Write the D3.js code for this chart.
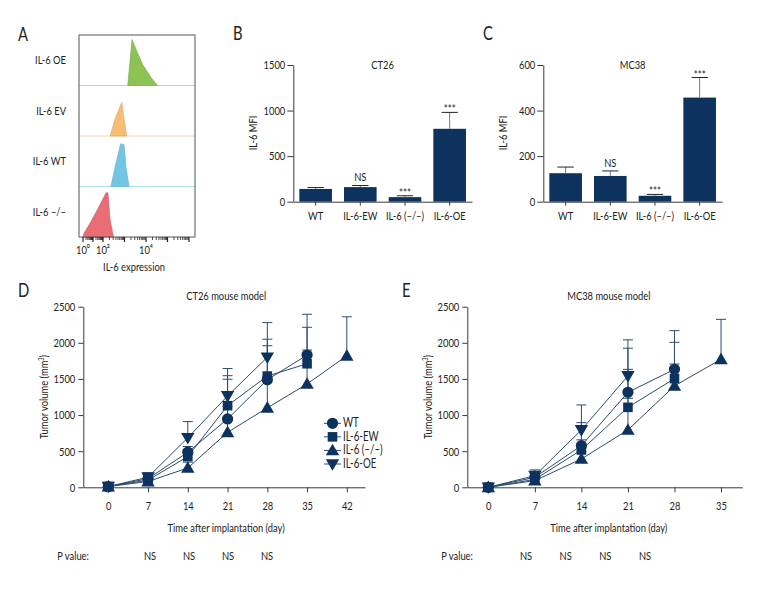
<!DOCTYPE html>
<html><head><meta charset="utf-8">
<script src="https://cdn.jsdelivr.net/npm/d3@7"></script>
<style>
body{margin:0;background:#fff}
text{font-family:Lato,Roboto,"Liberation Sans",sans-serif;fill:#222}
</style></head><body>
<svg id="c" width="780" height="600"></svg>
<script>
// ---------- DATA ----------
// Panel A (flow histograms): x in log10 decades, y in % of mode
const histRows = ["IL-6 OE","IL-6 EV","IL-6 WT","IL-6 \u2013/\u2013"];
const histOE = [[3.15,0],[3.35,100],[3.57,75],[3.85,45],[4.27,15],[4.54,0]];
const histEV = [[2.33,0],[2.56,37],[2.87,73],[2.98,37],[3.10,0]];
const histWT = [[2.37,0],[2.56,42],[2.82,93],[2.98,91],[3.07,42],[3.21,0]];
const histKO = [[0.00,0],[0.10,8],[0.70,30],[1.53,63],[2.14,96],[2.23,96],[2.33,37],[2.49,0]];
const histColors = ["#8dc353","#f7bd72","#72c6e3","#ea6c75"];
const histTickDecades = [0,2,4];
const histTickLabels = ["10\u2070","10\u00b2","10\u2074"];

// Panels B, C (bar charts)
const barCats = ["WT","IL-6-EW","IL-6 (\u2013/\u2013)","IL-6-OE"];
const ct26Mfi = [140,160,50,800];
const ct26Err = [15,18,15,180];
const mc38Mfi = [125,113,26,457];
const mc38Err = [27,22,6,88];
const sigLabels = ["","NS","***","***"];
const ct26MfiTicks = [0,500,1000,1500];
const mc38MfiTicks = [0,200,400,600];

// Panels D, E (tumor growth curves)
const seriesNames = ["WT","IL-6-EW","IL-6 (\u2013/\u2013)","IL-6-OE"];
const ct26Days = [0,7,14,21,28,35,42];
const ct26WT   = [10,120,485,946,1490,1830,null];
const ct26WTe  = [10,50,80,550,470,565,null];
const ct26EW   = [10,100,425,1130,1540,1710,null];
const ct26EWe  = [10,50,100,415,510,505,null];
const ct26KO   = [10,80,268,761,1100,1430,1820];
const ct26KOe  = [10,40,80,360,440,470,540];
const ct26OE   = [10,140,685,1264,1800,null,null];
const ct26OEe  = [10,60,225,380,480,null,null];

const mc38Days = [0,7,14,21,28,35];
const mc38WT   = [0,138,577,1315,1633,null];
const mc38WTe  = [10,80,318,610,536,null];
const mc38EW   = [0,110,517,1107,1504,null];
const mc38EWe  = [10,80,140,526,503,null];
const mc38KO   = [0,92,392,794,1403,1772];
const mc38KOe  = [10,60,100,438,304,553];
const mc38OE   = [0,161,794,1541,null,null];
const mc38OEe  = [10,80,346,500,null,null];

const volTicks = [0,500,1000,1500,2000,2500];
const pDays = [7,14,21,28];
const pLabels = ["NS","NS","NS","NS"];

// ---------- DRAWING ----------
const svg = d3.select("#c");
const navy = "#0d325e", lineC = "#2c4c70", axisC = "#3a3a3a";
const FS = 12;
const fmt = d3.format("d");

function styleAxis(a){
  a.selectAll("path,line").attr("stroke",axisC);
  a.selectAll("text").attr("font-size",FS).attr("font-family",null).attr("fill","#222");
}
function panelLetter(t,x,y){
  svg.append("text").attr("x",x).attr("y",y).attr("font-size",19).text(t);
}

// ===== Panel A =====
panelLetter("A",18,41);
(function(){
  const left=79,right=195,top=35,bottom=237;
  const x = d3.scaleLinear().domain([0,2,4,6.28]).range([83,103,146,right]);
  const rows = d3.scaleBand().domain(histRows).range([top,bottom]);
  const hists = [histOE,histEV,histWT,histKO];
  const g = svg.append("g");
  hists.forEach((h,i)=>{
    const base = rows(histRows[i])+rows.bandwidth();
    const y = d3.scaleLinear().domain([0,100]).range([base, base-46]);
    if(i<3) g.append("line").attr("x1",left).attr("x2",right).attr("y1",base).attr("y2",base)
       .attr("stroke",histColors[i]).attr("stroke-opacity",0.6).attr("stroke-width",1);
    g.append("path").datum(h)
      .attr("d",d3.area().x(d=>x(d[0])).y0(base).y1(d=>y(d[1])))
      .attr("fill",histColors[i]).attr("stroke",d3.color(histColors[i]).darker(0.4)).attr("stroke-width",0.6);
    g.append("text").attr("x",66).attr("y",rows(histRows[i])+rows.bandwidth()/2+4)
      .attr("text-anchor","end").attr("font-size",FS).text(histRows[i]);
  });
  g.append("rect").attr("x",left).attr("y",top).attr("width",right-left).attr("height",bottom-top)
    .attr("fill","none").attr("stroke","#555").attr("stroke-width",1);
  const minor=[];
  for(let d=0; d<7; d++) for(let k=2;k<10;k++){ const v=d+Math.log10(k); if(v<6.28) minor.push(v); }
  g.selectAll(".mn").data(minor).join("line").attr("x1",d=>x(d)).attr("x2",d=>x(d))
    .attr("y1",bottom).attr("y2",bottom+3).attr("stroke","#222").attr("stroke-width",0.8);
  g.selectAll(".mj").data(d3.range(0,7)).join("line").attr("x1",d=>x(d)).attr("x2",d=>x(d))
    .attr("y1",bottom).attr("y2",bottom+5).attr("stroke","#222").attr("stroke-width",1.2);
  g.selectAll(".tl").data(histTickDecades).join("text").attr("x",d=>x(d)).attr("y",254)
    .attr("text-anchor","middle").attr("font-size",FS).text((d,i)=>histTickLabels[i]);
  g.append("text").attr("x",134).attr("y",271).attr("text-anchor","middle").attr("font-size",FS).text("IL-6 expression");
})();

// ===== Panels B, C =====
function barPanel(letter,lx,title,vals,errs,ticks,xr,ylabX){
  panelLetter(letter,lx,40);
  const x = d3.scaleBand().domain(barCats).range(xr).paddingInner(0.27).paddingOuter(0.135);
  const y = d3.scaleLinear().domain([0,ticks[ticks.length-1]]).range([201.7,65]);
  const g = svg.append("g");
  g.append("g").attr("transform",`translate(${xr[0]},0)`)
    .call(d3.axisLeft(y).tickValues(ticks).tickFormat(fmt).tickSize(6).tickSizeOuter(0).tickPadding(2))
    .call(styleAxis);
  g.selectAll(".bar").data(barCats).join("rect")
    .attr("x",d=>x(d)).attr("width",x.bandwidth())
    .attr("y",(d,i)=>y(vals[i])).attr("height",(d,i)=>y(0)-y(vals[i])).attr("fill",navy);
  g.selectAll(".ev").data(barCats).join("line")
    .attr("x1",d=>x(d)+x.bandwidth()/2).attr("x2",d=>x(d)+x.bandwidth()/2)
    .attr("y1",(d,i)=>y(vals[i])).attr("y2",(d,i)=>y(vals[i]+errs[i])).attr("stroke","#777").attr("stroke-width",1);
  g.selectAll(".ec").data(barCats).join("line")
    .attr("x1",d=>x(d)+x.bandwidth()*0.25).attr("x2",d=>x(d)+x.bandwidth()*0.75)
    .attr("y1",(d,i)=>y(vals[i]+errs[i])).attr("y2",(d,i)=>y(vals[i]+errs[i])).attr("stroke","#222").attr("stroke-width",1);
  g.append("g").attr("transform",`translate(0,${y(0)})`)
    .call(d3.axisBottom(x).tickSize(4).tickSizeOuter(0).tickPadding(6))
    .call(styleAxis);
  g.selectAll(".sig").data(barCats).join("text")
    .attr("x",d=>x(d)+x.bandwidth()/2)
    .attr("y",(d,i)=>y(vals[i]+errs[i])-(sigLabels[i]==="NS"?4:-1))
    .attr("text-anchor","middle").attr("font-size",FS).text((d,i)=>sigLabels[i]);
  g.append("text").attr("x",(xr[0]+xr[1])/2).attr("y",69).attr("text-anchor","middle").attr("font-size",FS).text(title);
  g.append("text").attr("transform",`translate(${ylabX},133) rotate(-90)`).attr("text-anchor","middle").attr("font-size",FS).text("IL-6 MFI");
}
barPanel("B",233,"CT26",ct26Mfi,ct26Err,ct26MfiTicks,[293.3,472],257);
barPanel("C",483,"MC38",mc38Mfi,mc38Err,mc38MfiTicks,[543.3,722],507);

// ===== Panels D, E =====
const symbols = [d3.symbolCircle,d3.symbolSquare,d3.symbolTriangle,d3.symbolTriangle];
const symSize = [100,92,78,78];
const symRot = [0,0,0,180];

function growthPanel(letter,lx,title,days,series,errs,xDomain,xRange,pRange,legend){
  panelLetter(letter,lx,297);
  const x = d3.scaleLinear().domain(xDomain).range(xRange);
  const y = d3.scaleLinear().domain([0,2500]).range([487.3,306.7]);
  const g = svg.append("g");
  g.append("g").attr("transform",`translate(${xRange[0]},0)`)
    .call(d3.axisLeft(y).tickValues(volTicks).tickFormat(fmt).tickSize(5).tickSizeOuter(0).tickPadding(3))
    .call(styleAxis);
  g.append("g").attr("transform",`translate(0,${y(0)})`)
    .call(d3.axisBottom(x).tickValues(days).tickFormat(fmt).tickSize(5).tickSizeOuter(0).tickPadding(9))
    .call(styleAxis);
  series.forEach((s,si)=>{
    const pts = days.map((d,i)=>({d,v:s[i],e:errs[si][i]})).filter(p=>p.v!==null);
    g.selectAll(null).data(pts).join("line")
      .attr("x1",p=>x(p.d)).attr("x2",p=>x(p.d)).attr("y1",p=>y(p.v)).attr("y2",p=>y(p.v+p.e))
      .attr("stroke",lineC).attr("stroke-width",1);
    g.selectAll(null).data(pts).join("line")
      .attr("x1",p=>x(p.d)-5).attr("x2",p=>x(p.d)+5).attr("y1",p=>y(p.v+p.e)).attr("y2",p=>y(p.v+p.e))
      .attr("stroke",lineC).attr("stroke-width",1);
  });
  series.forEach((s,si)=>{
    const pts = days.map((d,i)=>({d,v:s[i]})).filter(p=>p.v!==null);
    g.append("path").datum(pts).attr("d",d3.line().x(p=>x(p.d)).y(p=>y(p.v)))
      .attr("fill","none").attr("stroke",lineC).attr("stroke-width",1);
  });
  series.forEach((s,si)=>{
    const pts = days.map((d,i)=>({d,v:s[i]})).filter(p=>p.v!==null);
    g.selectAll(null).data(pts).join("path")
      .attr("d",d3.symbol(symbols[si],symSize[si]))
      .attr("transform",p=>`translate(${x(p.d)},${y(p.v)+(si===3?-1:si===2?1:0)}) rotate(${symRot[si]})`)
      .attr("fill",navy);
  });
  const cx = (xRange[0]+xRange[1])/2 + (letter==="D"?2:4);
  g.append("text").attr("x",cx).attr("y",300).attr("text-anchor","middle").attr("font-size",FS).text(title);
  g.append("text").attr("x",cx).attr("y",532).attr("text-anchor","middle").attr("font-size",FS).text("Time after implantation (day)");
  const yl = g.append("text").attr("transform",`translate(${xRange[0]-35},397) rotate(-90)`).attr("text-anchor","middle").attr("font-size",FS);
  yl.append("tspan").text("Tumor volume (mm");
  yl.append("tspan").attr("font-size",7).attr("dy",-4).text("3");
  yl.append("tspan").attr("dy",4).text(")");
  const px = d3.scaleLinear().domain([pDays[0],pDays[pDays.length-1]]).range(pRange);
  g.append("text").attr("x",xRange[0]-26).attr("y",560).attr("font-size",FS).text("P value:");
  g.selectAll(null).data(pDays).join("text").attr("x",d=>px(d)).attr("y",560)
    .attr("text-anchor","middle").attr("font-size",FS).text((d,i)=>pLabels[i]);
  if(legend){
    const ly = d3.scalePoint().domain(seriesNames).range([423.3,464]);
    const lg = g.append("g");
    seriesNames.forEach((n,si)=>{
      lg.append("line").attr("x1",324).attr("x2",341).attr("y1",ly(n)).attr("y2",ly(n)).attr("stroke",lineC).attr("stroke-width",1);
      lg.append("path").attr("d",d3.symbol(symbols[si],symSize[si])())
        .attr("transform",`translate(332.5,${ly(n)+(si===3?-1:si===2?1:0)}) rotate(${symRot[si]})`).attr("fill",navy);
      lg.append("text").attr("x",343).attr("y",ly(n)+4).attr("font-size",FS+0.5).text(n);
    });
  }
}
growthPanel("D",18,"CT26 mouse model",ct26Days,
  [ct26WT,ct26EW,ct26KO,ct26OE],[ct26WTe,ct26EWe,ct26KOe,ct26OEe],
  [-4.4,45.2],[83.3,365],[150,267],true);
growthPanel("E",402,"MC38 mouse model",mc38Days,
  [mc38WT,mc38EW,mc38KO,mc38OE],[mc38WTe,mc38EWe,mc38KOe,mc38OEe],
  [-3.16,38.2],[467.3,742.3],[526,645],false);

// condense all text horizontally around its anchor point (condensed typeface look)
const K = 0.78;
svg.selectAll("text").each(function(){
  const t = d3.select(this);
  const x = +t.attr("x")||0, y = +t.attr("y")||0;
  const tr = t.attr("transform")||"";
  t.attr("transform",`${tr} translate(${x},${y}) scale(${K},1) translate(${-x},${-y})`);
});
</script></body></html>
